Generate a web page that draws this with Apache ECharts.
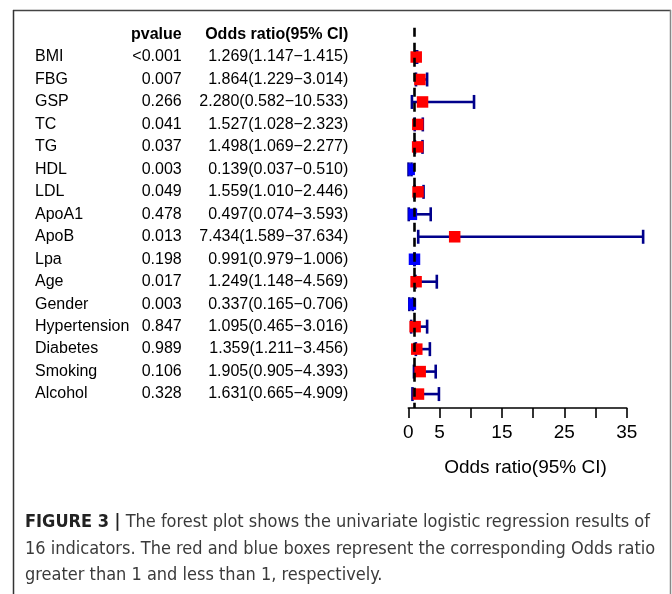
<!DOCTYPE html>
<html>
<head>
<meta charset="utf-8">
<script src="https://cdn.jsdelivr.net/npm/echarts@6/dist/echarts.min.js"></script>
<style>
  html, body { margin: 0; padding: 0; background: #fff; }
  #forest { width: 672px; height: 594px; }
</style>
</head>
<body>
<div id="forest"></div>
<script>
// data
const names = ['BMI', 'FBG', 'GSP', 'TC', 'TG', 'HDL', 'LDL', 'ApoA1', 'ApoB', 'Lpa', 'Age', 'Gender', 'Hypertension', 'Diabetes', 'Smoking', 'Alcohol'];
const pvalues = ['<0.001', '0.007', '0.266', '0.041', '0.037', '0.003', '0.049', '0.478', '0.013', '0.198', '0.017', '0.003', '0.847', '0.989', '0.106', '0.328'];
const oddsRatio = [1.269, 1.864, 2.280, 1.527, 1.498, 0.139, 1.559, 0.497, 7.434, 0.991, 1.249, 0.337, 1.095, 1.359, 1.905, 1.631];
const ciLower = [1.147, 1.229, 0.582, 1.028, 1.069, 0.037, 1.010, 0.074, 1.589, 0.979, 1.148, 0.165, 0.465, 1.211, 0.905, 0.665];
const ciUpper = [1.415, 3.014, 10.533, 2.323, 2.277, 0.510, 2.446, 3.593, 37.634, 1.006, 4.569, 0.706, 3.016, 3.456, 4.393, 4.909];
const tickLabels = [0, 5, 15, 25, 35];

const captionLines = [
  'The forest plot shows the univariate logistic regression results of',
  '16 indicators. The red and blue boxes represent the corresponding Odds ratio',
  'greater than 1 and less than 1, respectively.'
];

const rowKeys = ['header'].concat(names);
const forestData = names.map((n, i) => [i + 1, oddsRatio[i], ciLower[i], ciUpper[i]]);
const orText = names.map((n, i) =>
  oddsRatio[i].toFixed(3) + '(' + ciLower[i].toFixed(3) + '\u2212' + ciUpper[i].toFixed(3) + ')');

const chart = echarts.init(document.getElementById('forest'));

const plotLeft = 408.3;
const font = 'Liberation Sans, Arial, sans-serif';
const capFont = 'DejaVu Sans Condensed, Liberation Sans Narrow, sans-serif';

function renderForest(params, api) {
  const row = api.value(0);
  const p = api.coord([api.value(1), row]);
  const lo = api.coord([api.value(2), row]);
  const hi = api.coord([api.value(3), row]);
  const cs = params.coordSys;
  // boxes are cut at x = 0 only
  const clip = { x: cs.x, y: cs.y - 20, width: 2000, height: cs.height + 40 };
  const barStyle = { stroke: '#00008B', lineWidth: 2.6 };
  const cap = 7;
  const children = [
    { type: 'line', shape: { x1: Math.max(lo[0], cs.x), y1: p[1], x2: hi[0], y2: p[1] }, style: barStyle },
    { type: 'line', shape: { x1: lo[0], y1: p[1] - cap, x2: lo[0], y2: p[1] + cap }, style: barStyle },
    { type: 'line', shape: { x1: hi[0], y1: p[1] - cap, x2: hi[0], y2: p[1] + cap }, style: barStyle }
  ];
  const s = 11.5;
  const box = echarts.graphic.clipRectByRect({ x: p[0] - s / 2, y: p[1] - s / 2, width: s, height: s }, clip);
  if (box) {
    children.push({
      type: 'rect', shape: box,
      style: { fill: api.value(1) > 1 ? '#FF0000' : '#0000FF' }
    });
  }
  return { type: 'group', children: children };
}

function tableAxis(margin, align, formatter) {
  return {
    type: 'category',
    gridIndex: 1,
    position: 'left',
    inverse: true,
    data: rowKeys,
    axisLine: { show: false },
    axisTick: { show: false },
    splitLine: { show: false },
    axisLabel: {
      interval: 0,
      margin: margin,
      align: align,
      fontSize: 16,
      fontFamily: font,
      color: '#000',
      formatter: formatter,
      rich: { b: { fontSize: 16, fontWeight: 'bold', fontFamily: font, color: '#000' } }
    }
  };
}

const option = {
  backgroundColor: '#fff',
  animation: false,
  grid: [
    { left: plotLeft, right: 45.3, top: 27.8, bottom: 186, outerBoundsMode: 'none' },
    { left: plotLeft, right: 45.3, top: 23.27, height: 382, outerBoundsMode: 'none' }
  ],
  xAxis: [
    {
      type: 'value',
      gridIndex: 0,
      position: 'bottom',
      min: 0,
      max: 35,
      interval: 5,
      splitLine: { show: false },
      axisLine: { onZero: false, lineStyle: { color: '#000', width: 1.6 } },
      axisTick: { length: 10, lineStyle: { color: '#000', width: 1.6 } },
      axisLabel: {
        margin: 15,
        fontSize: 19,
        fontFamily: font,
        color: '#000',
        showMaxLabel: true,
        formatter: v => (tickLabels.indexOf(v) >= 0 ? String(v) : '')
      },
      name: 'Odds ratio(95% CI)',
      nameLocation: 'middle',
      nameGap: 50,
      nameTextStyle: { fontSize: 19, fontFamily: font, color: '#000', padding: [0, 0, 0, 16] }
    },
    { type: 'value', gridIndex: 1, show: false }
  ],
  yAxis: [
    { type: 'value', gridIndex: 0, inverse: true, min: -0.3, max: 16.62, show: false },
    tableAxis(plotLeft - 35, 'left', (v, i) => (i === 0 ? '' : names[i - 1])),
    tableAxis(plotLeft - 181.7, 'right', (v, i) => (i === 0 ? '{b|pvalue}' : pvalues[i - 1])),
    tableAxis(plotLeft - 348.3, 'right', (v, i) => (i === 0 ? '{b|Odds ratio(95% CI)}' : orText[i - 1]))
  ],
  series: [
    {
      type: 'line',
      xAxisIndex: 0,
      yAxisIndex: 0,
      data: [],
      z: 1,
      markLine: {
        silent: true,
        symbol: 'none',
        label: { show: false },
        lineStyle: { color: '#000', width: 2.6, type: [9, 6] },
        data: [{ xAxis: 1 }]
      }
    },
    {
      type: 'custom',
      xAxisIndex: 0,
      yAxisIndex: 0,
      z: 3,
      renderItem: renderForest,
      encode: { x: [1, 2, 3], y: 0 },
      data: forestData
    }
  ],
  graphic: [
    { type: 'line', shape: { x1: 13, y1: 10.5, x2: 671, y2: 10.5 }, style: { stroke: '#444', lineWidth: 1.5 } },
    { type: 'line', shape: { x1: 13.5, y1: 10, x2: 13.5, y2: 594 }, style: { stroke: '#333', lineWidth: 1.5 } },
    { type: 'line', shape: { x1: 670.5, y1: 10, x2: 670.5, y2: 594 }, style: { stroke: '#888', lineWidth: 1.5 } },
    {
      type: 'text', left: 25, top: 513,
      style: {
        text: '{b|FIGURE 3 |} ' + captionLines[0],
        fontSize: 18, fontFamily: capFont, fill: '#3a3a3a',
        rich: { b: { fontSize: 18, fontWeight: 'bold', fontFamily: capFont, fill: '#222' } }
      }
    },
    {
      type: 'text', left: 25, top: 540,
      style: { text: captionLines[1], fontSize: 18, fontFamily: capFont, fill: '#3a3a3a' }
    },
    {
      type: 'text', left: 25, top: 566,
      style: { text: captionLines[2], fontSize: 18, fontFamily: capFont, fill: '#3a3a3a' }
    }
  ]
};

chart.setOption(option);
</script>
</body>
</html>
